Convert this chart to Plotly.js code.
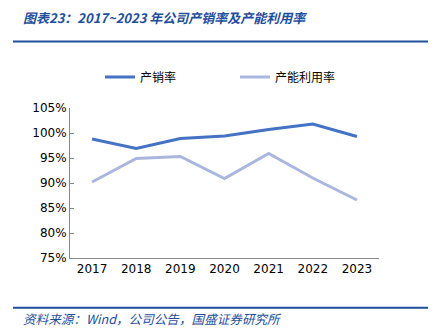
<!DOCTYPE html>
<html><head><meta charset="utf-8">
<script src="https://cdn.plot.ly/plotly-3.0.1.min.js"></script>
<style>html,body{margin:0;padding:0;background:#fff;}#chart{width:441px;height:328px;}</style>
</head><body><div id="chart"></div>
<script>
const years = ['2017','2018','2019','2020','2021','2022','2023'];
const salesRate = [98.8, 96.9, 98.9, 99.4, 100.7, 101.8, 99.3];
const capacityRate = [90.2, 94.9, 95.3, 90.9, 95.9, 91.0, 86.6];
const seriesNames = ['产销率', '产能利用率'];
const yTicks = [75, 80, 85, 90, 95, 100, 105];

const traces = [
  {x: years, y: salesRate, name: seriesNames[0], type: 'scatter', mode: 'lines',
   line: {color: '#4472C4', width: 3}},
  {x: years, y: capacityRate, name: seriesNames[1], type: 'scatter', mode: 'lines',
   line: {color: '#A9B7DF', width: 3}}
];
const titleColor = '#1F4E9C';
const layout = {
  width: 441, height: 328,
  margin: {l: 70, r: 62, t: 108, b: 70},
  paper_bgcolor: '#fff', plot_bgcolor: '#fff',
  font: {family: 'Tahoma, "DejaVu Sans", sans-serif', size: 12, color: '#000'},
  showlegend: true,
  legend: {orientation: 'h', xref: 'container', x: 100/441, xanchor: 'left',
    yref: 'container', y: 1 - 77/328, yanchor: 'middle',
    entrywidth: 90, entrywidthmode: 'pixels', itemwidth: 30,
    font: {family: '"Noto Sans CJK SC", sans-serif', size: 12, color: '#000'}},
  xaxis: {type: 'category', showline: true, linecolor: '#888', linewidth: 1,
    ticks: '', showgrid: false, zeroline: false, range: [-0.5, 6.5],
    tickfont: {family: 'Tahoma, "DejaVu Sans", sans-serif', size: 12}},
  yaxis: {range: [75, 105], tickvals: yTicks, ticktext: yTicks.map(v => v + '%'),
    showline: true, linecolor: '#888', linewidth: 1, ticks: 'inside', ticklen: 4,
    tickcolor: '#888', showgrid: false, zeroline: false,
    tickfont: {family: 'Tahoma, "DejaVu Sans", sans-serif', size: 12}},
  shapes: [
    {type: 'line', xref: 'paper', yref: 'paper', x0: -57/309, x1: 358/309,
     y0: (258-41.5)/150, y1: (258-41.5)/150, line: {color: titleColor, width: 2}},
    {type: 'line', xref: 'paper', yref: 'paper', x0: -57/309, x1: 358/309,
     y0: (258-307.7)/150, y1: (258-307.7)/150, line: {color: titleColor, width: 2}}
  ],
  annotations: [
    {xref: 'paper', yref: 'paper', x: -49/309, y: (258-17)/150, xanchor: 'left', yanchor: 'middle',
     showarrow: false, text: '<i><b>图表23：2017~2023 年公司产销率及产能利用率</b></i>',
     font: {family: '"Noto Sans CJK SC", sans-serif', size: 13, color: titleColor, weight: 500}},
    {xref: 'paper', yref: 'paper', x: -49/309, y: (258-318)/150, xanchor: 'left', yanchor: 'middle',
     showarrow: false, text: '<i>资料来源：Wind，公司公告，国盛证券研究所</i>',
     font: {family: '"Noto Sans CJK SC", sans-serif', size: 12.6, color: titleColor}}
  ]
};
Plotly.newPlot('chart', traces, layout, {displayModeBar: false, staticPlot: true});
</script></body></html>
